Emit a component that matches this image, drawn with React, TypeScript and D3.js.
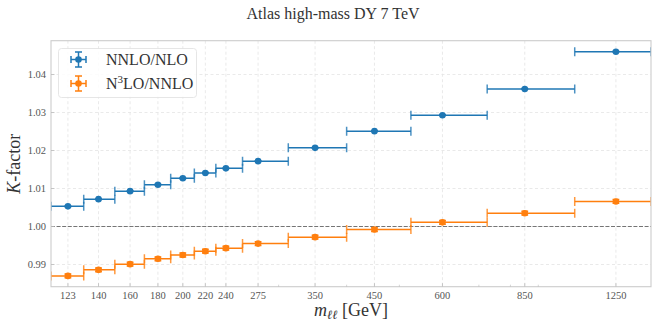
import React from "react";
import * as d3 from "d3";

const massCenters = [123, 140, 160, 180, 200, 220, 240, 275, 350, 450, 600, 850, 1250];
const binEdges = [114.5, 131.5, 150, 170, 190, 210, 230, 257.5, 312.5, 400, 525, 725, 1050, 1450];
const nnloOverNlo = [1.0053, 1.0072, 1.0093, 1.011, 1.0127, 1.0141, 1.0153, 1.0172, 1.0207, 1.0251, 1.0293, 1.0362, 1.046];
const nnloErr = [0.0001, 0.0001, 0.0001, 0.0001, 0.0001, 0.0001, 0.0001, 0.0001, 0.0001, 0.0001, 0.0001, 0.0001, 0.0001];
const n3loOverNnlo = [0.987, 0.9886, 0.9901, 0.9915, 0.9925, 0.9935, 0.9943, 0.9955, 0.9972, 0.9992, 1.0011, 1.0035, 1.0066];
const n3loErr = [0.0005, 0.0005, 0.0005, 0.0005, 0.0005, 0.0005, 0.0005, 0.0005, 0.0005, 0.0005, 0.0005, 0.0005, 0.0005];
const yTicks = [0.99, 1.0, 1.01, 1.02, 1.03, 1.04];
const minorXTicks = [300, 400, 500, 700, 800, 900];
const xDomain = [114.5, 1450];
const yDomain = [0.98416, 1.0489];

const W = 664, H = 332;
const L = 51, R = 651, T = 40.7, B = 286.7;
const BLUE = "#1f77b4", ORANGE = "#ff7f0e";
const FONT = "'Liberation Serif', 'Times New Roman', serif";

export default function App() {
  const x = d3.scaleLog().domain(xDomain).range([L, R]);
  const y = d3.scaleLinear().domain(yDomain).range([B, T]);
  const cap = 4.5;

  const series = [
    { vals: nnloOverNlo, err: nnloErr, color: BLUE, label: "NNLO/NLO" },
    { vals: n3loOverNnlo, err: n3loErr, color: ORANGE, label: "N3LO/NNLO" },
  ];

  return (
    <svg width={W} height={H} style={{ position: "absolute", left: 0, top: 0, background: "#fff" }}
      fontFamily={FONT}>
      <defs>
        <clipPath id="plotclip">
          <rect x={L} y={T} width={R - L} height={B - T} />
        </clipPath>
      </defs>
      <text x={333} y={19} textAnchor="middle" fontSize={16} fill="#333">
        Atlas high-mass DY 7 TeV
      </text>
      {massCenters.map((c, i) => (
        <line key={"gx" + i} x1={x(c)} x2={x(c)} y1={T} y2={B} stroke="#e3e3e3" strokeWidth={0.8} strokeDasharray="3,2.5" />
      ))}
      {yTicks.map((t, i) => (
        <line key={"gy" + i} x1={L} x2={R} y1={y(t)} y2={y(t)} stroke="#e3e3e3" strokeWidth={0.8} strokeDasharray="3,2.5" />
      ))}
      <line x1={L} x2={R} y1={y(1)} y2={y(1)} stroke="#555" strokeWidth={0.8} strokeDasharray="4,1.6" />
      <g clipPath="url(#plotclip)">
        {series.map((s, si) => (
          <g key={"s" + si}>
            {s.vals.map((v, i) => {
              const x0 = x(binEdges[i]), x1 = x(binEdges[i + 1]), xc = x(massCenters[i]);
              const yc = y(v), ylo = y(v - s.err[i]), yhi = y(v + s.err[i]);
              return (
                <g key={i} stroke={s.color} strokeWidth={1.5} fill="none">
                  <line x1={x0} x2={x1} y1={yc} y2={yc} />
                  <line x1={x0} x2={x0} y1={yc - cap} y2={yc + cap} strokeOpacity={0.8} />
                  <line x1={x1} x2={x1} y1={yc - cap} y2={yc + cap} strokeOpacity={0.8} />
                  <line x1={xc} x2={xc} y1={ylo} y2={yhi} />
                  <line x1={xc - cap * 0.75} x2={xc + cap * 0.75} y1={ylo} y2={ylo} />
                  <line x1={xc - cap * 0.75} x2={xc + cap * 0.75} y1={yhi} y2={yhi} />
                  <circle cx={xc} cy={yc} r={3.3} fill={s.color} stroke="none" />
                </g>
              );
            })}
          </g>
        ))}
      </g>
      <rect x={L} y={T} width={R - L} height={B - T} fill="none" stroke="#cccccc" strokeWidth={1.1} />
      {massCenters.map((c, i) => (
        <g key={"xt" + i}>
          <line x1={x(c)} x2={x(c)} y1={B} y2={B - 3.5} stroke="#bbb" strokeWidth={0.8} />
          <text x={x(c)} y={B + 12} textAnchor="middle" fontSize={10.5} fill="#555">{c}</text>
        </g>
      ))}
      {minorXTicks.map((c, i) => (
        <line key={"mx" + i} x1={x(c)} x2={x(c)} y1={B} y2={B - 2} stroke="#bbb" strokeWidth={0.6} />
      ))}
      {yTicks.map((t, i) => (
        <g key={"yt" + i}>
          <line x1={L} x2={L + 3.5} y1={y(t)} y2={y(t)} stroke="#bbb" strokeWidth={0.8} />
          <text x={46} y={y(t) + 3.5} textAnchor="end" fontSize={10.5} fill="#555">{t.toFixed(2)}</text>
        </g>
      ))}
      <text x={(L + R) / 2} y={316} textAnchor="middle" fontSize={18} fill="#333">
        <tspan fontStyle="italic">m</tspan>
        <tspan fontStyle="italic" fontSize={12.5} dy={3}>ℓℓ</tspan>
        <tspan dy={-3}> [GeV]</tspan>
      </text>
      <text transform={`translate(20, ${(T + B) / 2}) rotate(-90)`} textAnchor="middle" fontSize={18} fill="#333">
        <tspan fontStyle="italic">K</tspan>-factor
      </text>
      <rect x={58.5} y={48.5} width={138} height={49} rx={3} fill="#fff" fillOpacity={0.85} stroke="#e0e0e0" strokeWidth={0.8} />
      {series.map((s, i) => {
        const cx = 78.5, cy = 59.5 + i * 24;
        const h = 7.5;
        return (
          <g key={"lg" + i}>
            <g stroke={s.color} strokeWidth={1.5}>
              <line x1={cx - h} x2={cx + h} y1={cy} y2={cy} />
              <line x1={cx} x2={cx} y1={cy - h} y2={cy + h} />
              <line x1={cx - h} x2={cx - h} y1={cy - 3.5} y2={cy + 3.5} />
              <line x1={cx + h} x2={cx + h} y1={cy - 3.5} y2={cy + 3.5} />
              <line x1={cx - 3.5} x2={cx + 3.5} y1={cy - h} y2={cy - h} />
              <line x1={cx - 3.5} x2={cx + 3.5} y1={cy + h} y2={cy + h} />
            </g>
            <circle cx={cx} cy={cy} r={3.3} fill={s.color} />
            <text x={106} y={cy + 5.5} fontSize={16} fill="#333">
              {i === 0 ? "NNLO/NLO" : (<>N<tspan fontSize={11} dy={-6}>3</tspan><tspan dy={6}>LO/NNLO</tspan></>)}
            </text>
          </g>
        );
      })}
    </svg>
  );
}
